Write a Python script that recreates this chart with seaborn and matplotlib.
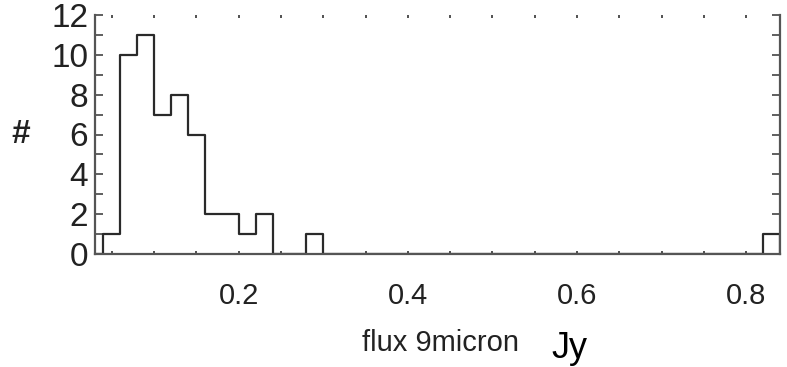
import numpy as np
import pandas as pd
import matplotlib
matplotlib.use("Agg")
import matplotlib.pyplot as plt
import seaborn as sns
from matplotlib.ticker import MultipleLocator, FixedLocator

# ---- data ----
bin_start = 0.04
bin_width = 0.02
counts = [1, 10, 11, 7, 8, 6, 2, 2, 1, 2,
          0, 0, 1, 0, 0, 0, 0, 0, 0, 0,
          0, 0, 0, 0, 0, 0, 0, 0, 0, 0,
          0, 0, 0, 0, 0, 0, 0, 0, 0, 1]
x_ticks = [0.2, 0.4, 0.6, 0.8]
x_tick_labels = ["0.2", "0.4", "0.6", "0.8"]
y_ticks = [0, 2, 4, 6, 8, 10, 12]
y_tick_labels = ["0", "2", "4", "6", "8", "10", "12"]
x_label = "flux 9micron"
unit_label = "Jy"
y_label = "#"

# pad with an empty bin on each side so the outline drops to zero
padded = [0] + counts + [0]
n = len(padded)
edges = np.round(bin_start - bin_width + bin_width * np.arange(n + 1), 4)
centers = (edges[:-1] + edges[1:]) / 2
df = pd.DataFrame({"flux": centers, "n": padded})

sns.set_theme(style="white")
plt.rcParams["font.family"] = ["Liberation Sans", "DejaVu Sans"]

fig = plt.figure(figsize=(7.87, 3.67), dpi=100)
ax = fig.add_axes([95 / 787, 1 - 254 / 367, (780 - 95) / 787, (254 - 15) / 367])

sns.histplot(data=df, x="flux", weights="n", bins=edges.tolist(), element="step",
             fill=False, color="#2a2a2a", linewidth=1.6, ax=ax)

ax.set_xlim(0.03, 0.84)
ax.set_ylim(0, 12)

ax.xaxis.set_major_locator(FixedLocator(x_ticks))
ax.set_xticklabels(x_tick_labels, fontsize=21)
ax.xaxis.set_minor_locator(MultipleLocator(0.05))
ax.yaxis.set_major_locator(FixedLocator(y_ticks))
ax.set_yticklabels(y_tick_labels, fontsize=24)
ax.yaxis.set_minor_locator(MultipleLocator(1))

for s in ["left", "bottom", "right"]:
    ax.spines[s].set_visible(True)
    ax.spines[s].set_color("#555555")
    ax.spines[s].set_linewidth(1.6)
ax.spines["top"].set_visible(False)

ax.tick_params(axis="x", which="both", direction="in", length=2.5, width=1.2,
               color="#333333", top=True, bottom=True, pad=20, labelcolor="#222222")
ax.tick_params(axis="y", which="both", direction="in", length=6, width=1.2,
               color="#444444", left=True, right=True, pad=5, labelcolor="#222222")

ax.set_xlabel("")
ax.set_ylabel(y_label, fontsize=24, rotation=0, va="center", color="#222222",
              fontweight="bold")
ax.yaxis.set_label_coords(-0.108, 0.5)

fig.text(440 / 787, 1 - 343 / 367, x_label, fontsize=21, ha="center",
         va="center", color="#222222")
fig.text(570 / 787, 1 - 348 / 367, unit_label, fontsize=26, ha="center",
         va="center", color="black")

fig.savefig("out.png", dpi=100)
